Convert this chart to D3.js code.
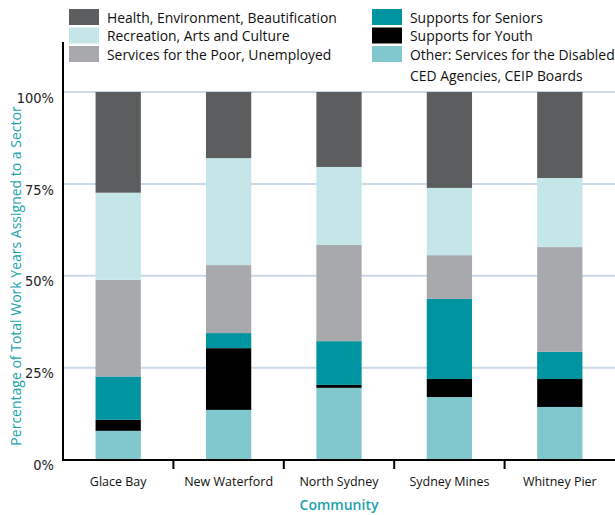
<!DOCTYPE html>
<html>
<head>
<meta charset="utf-8">
<script src="https://cdn.jsdelivr.net/npm/d3@7"></script>
<style>
  html, body { margin: 0; padding: 0; background: #fff; }
  svg { display: block; }
</style>
</head>
<body>
<svg id="chart" width="615" height="515"></svg>
<script>
// Communities along the x axis
const communities = ["Glace Bay", "New Waterford", "North Sydney", "Sydney Mines", "Whitney Pier"];

// Sectors, stacked bottom to top
const sectors = [
  "Other: Services for the Disabled CED Agencies, CEIP Boards",
  "Supports for Youth",
  "Supports for Seniors",
  "Services for the Poor, Unemployed",
  "Recreation, Arts and Culture",
  "Health, Environment, Beautification"
];

// Share of total work years (%) per sector, one value per community
const otherShare      = [7.8, 13.5, 19.5, 17.0, 14.3];
const youthShare      = [3.0, 16.8, 0.8, 4.9, 7.6];
const seniorsShare    = [11.8, 4.1, 11.9, 21.8, 7.4];
const poorShare       = [26.3, 18.5, 26.2, 11.9, 28.5];
const recreationShare = [23.7, 29.1, 21.2, 18.3, 18.8];
const healthShare     = [27.4, 18.0, 20.4, 26.1, 23.4];

const yTicks = [0, 25, 50, 75, 100];

const colors = ["#80c8cd", "#000000", "#0093a0", "#a8a9ad", "#c4e6e8", "#5c5d5f"];

const seriesValues = [otherShare, youthShare, seniorsShare, poorShare, recreationShare, healthShare];
const rows = communities.map((c, i) => {
  const r = { community: c };
  sectors.forEach((s, k) => { r[s] = seriesValues[k][i]; });
  return r;
});

const svg = d3.select("#chart");
const font = "'Open Sans', 'DejaVu Sans', sans-serif";
const narrow = "'Liberation Sans Narrow', 'DejaVu Sans Condensed', 'Roboto Condensed', sans-serif";

const plot = { left: 63, right: 615, top: 42, bottom: 460 };

const x = d3.scaleBand().domain(communities).range([plot.left, plot.right]).paddingInner(0).paddingOuter(0);
const y = d3.scaleLinear().domain([0, 100]).range([459.5, 92]);

// Gridlines
svg.append("g")
  .selectAll("line")
  .data(yTicks.filter(t => t > 0))
  .join("line")
  .attr("x1", plot.left).attr("x2", plot.right)
  .attr("y1", d => y(d)).attr("y2", d => y(d))
  .attr("stroke", "#cbd9e8").attr("stroke-width", 2);

// Stacked bars
const stack = d3.stack().keys(sectors);
const layers = stack(rows);
const barW = x.bandwidth() * 0.41;

svg.append("g")
  .selectAll("g")
  .data(layers)
  .join("g")
  .attr("fill", (d, i) => colors[i])
  .selectAll("rect")
  .data(d => d)
  .join("rect")
  .attr("x", d => x(d.data.community) + (x.bandwidth() - barW) / 2)
  .attr("width", barW)
  .attr("y", d => y(d[1]))
  .attr("height", d => y(d[0]) - y(d[1]));

// Y axis
const yAxis = d3.axisLeft(y).tickValues(yTicks).tickFormat(d => d + "%").tickSize(0).tickPadding(9);
const yg = svg.append("g").attr("transform", `translate(${plot.left},0)`).call(yAxis);
yg.select(".domain").remove();
yg.selectAll("text")
  .attr("font-family", narrow)
  .attr("font-size", 14.5)
  .attr("fill", "#222")
  .attr("dy", "0.7em");

svg.append("line")
  .attr("x1", plot.left).attr("x2", plot.left)
  .attr("y1", plot.top).attr("y2", plot.bottom)
  .attr("stroke", "#000").attr("stroke-width", 2);

// X axis: ticks sit at category boundaries
const xAxisG = svg.append("g").attr("transform", `translate(0,${plot.bottom})`);
xAxisG.append("line")
  .attr("x1", plot.left - 1).attr("x2", plot.right)
  .attr("stroke", "#000").attr("stroke-width", 2);
xAxisG.selectAll("line.tick")
  .data(communities.slice(1))
  .join("line")
  .attr("class", "tick")
  .attr("x1", d => x(d)).attr("x2", d => x(d))
  .attr("y1", 0).attr("y2", 9)
  .attr("stroke", "#000").attr("stroke-width", 2);
xAxisG.selectAll("text")
  .data(communities)
  .join("text")
  .attr("x", d => x(d) + x.bandwidth() / 2)
  .attr("y", 26)
  .attr("text-anchor", "middle")
  .attr("font-family", font)
  .attr("font-size", 12.5)
  .attr("font-weight", 500)
  .attr("fill", "#111")
  .text(d => d);

// Axis titles
svg.append("text")
  .attr("x", 339).attr("y", 510)
  .attr("text-anchor", "middle")
  .attr("font-family", font)
  .attr("font-size", 14)
  .attr("font-weight", 600)
  .attr("fill", "#1aa3ab")
  .text("Community");

svg.append("text")
  .attr("transform", "translate(21,276) rotate(-90)")
  .attr("text-anchor", "middle")
  .attr("font-family", font)
  .attr("font-size", 14)
  .attr("fill", "#1aa3ab")
  .text("Percentage of Total Work Years Assigned to a Sector");

// Legend
const legendItems = [
  { col: 0, row: 0, k: 5, label: ["Health, Environment, Beautification"] },
  { col: 0, row: 1, k: 4, label: ["Recreation, Arts and Culture"] },
  { col: 0, row: 2, k: 3, label: ["Services for the Poor, Unemployed"] },
  { col: 1, row: 0, k: 2, label: ["Supports for Seniors"] },
  { col: 1, row: 1, k: 1, label: ["Supports for Youth"] },
  { col: 1, row: 2, k: 0, label: ["Other: Services for the Disabled", "CED Agencies, CEIP Boards"] }
];
const colX = [69, 372];
const lg = svg.append("g");
legendItems.forEach(it => {
  const gx = colX[it.col], gy = 9 + it.row * 18.5;
  lg.append("rect").attr("x", gx).attr("y", gy).attr("width", 30).attr("height", 16).attr("fill", colors[it.k]);
  it.label.forEach((t, j) => {
    lg.append("text")
      .attr("x", gx + 38).attr("y", gy + 13.5 + j * 21.5)
      .attr("font-family", font)
      .attr("font-size", 13.9)
      .attr("font-weight", 500)
      .attr("fill", "#111")
      .text(t);
  });
});
</script>
</body>
</html>
